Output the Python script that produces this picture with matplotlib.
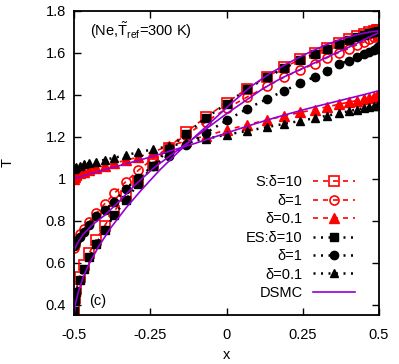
import matplotlib
matplotlib.use('Agg')
import matplotlib.pyplot as plt

plt.rcParams['font.family'] = ['Liberation Sans', 'DejaVu Sans']
plt.rcParams['mathtext.fontset'] = 'custom'
plt.rcParams['mathtext.rm'] = 'Liberation Sans'
plt.rcParams['mathtext.it'] = 'Liberation Sans'

# grid of the kinetic solutions (denser near the walls)
x = [-0.5, -0.498, -0.492, -0.482, -0.468, -0.45, -0.427, -0.4, -0.368, -0.331,
     -0.289, -0.242, -0.19, -0.132, -0.068, 0.0, 0.068, 0.132, 0.19, 0.242,
     0.289, 0.331, 0.368, 0.4, 0.427, 0.45, 0.468, 0.482, 0.492, 0.498, 0.5]

# S-model
s_d10 = [0.375, 0.43, 0.475, 0.53, 0.59, 0.645, 0.71, 0.775, 0.845, 0.918,
         0.99, 1.07, 1.148, 1.222, 1.294, 1.362, 1.43, 1.486, 1.532, 1.57,
         1.598, 1.624, 1.647, 1.666, 1.68, 1.691, 1.699, 1.704, 1.707, 1.709, 1.71]
s_d1 = [0.67, 0.685, 0.71, 0.735, 0.76, 0.795, 0.835, 0.88, 0.93, 0.985,
        1.04, 1.095, 1.15, 1.21, 1.27, 1.335, 1.39, 1.44, 1.485, 1.52,
        1.548, 1.578, 1.602, 1.62, 1.638, 1.652, 1.665, 1.675, 1.682, 1.687, 1.69]
s_d01 = [1.0, 1.01, 1.018, 1.026, 1.034, 1.042, 1.052, 1.062, 1.074, 1.088,
         1.103, 1.128, 1.155, 1.18, 1.205, 1.232, 1.258, 1.28, 1.3, 1.316,
         1.33, 1.343, 1.355, 1.365, 1.373, 1.38, 1.386, 1.391, 1.395, 1.398, 1.4]

# ES-model
es_d10 = [0.37, 0.415, 0.46, 0.515, 0.57, 0.625, 0.69, 0.755, 0.825, 0.9,
          0.975, 1.06, 1.14, 1.215, 1.29, 1.358, 1.428, 1.483, 1.528, 1.565,
          1.593, 1.618, 1.641, 1.66, 1.674, 1.685, 1.693, 1.698, 1.701, 1.703, 1.704]
es_d1 = [0.68, 0.69, 0.705, 0.72, 0.745, 0.78, 0.82, 0.85, 0.89, 0.95,
         1.005, 1.06, 1.11, 1.16, 1.218, 1.278, 1.334, 1.38, 1.42, 1.456,
         1.486, 1.516, 1.545, 1.563, 1.58, 1.595, 1.605, 1.615, 1.623, 1.63, 1.633]
es_d01 = [1.045, 1.05, 1.056, 1.062, 1.068, 1.075, 1.082, 1.09, 1.1, 1.112,
          1.126, 1.14, 1.155, 1.172, 1.19, 1.21, 1.228, 1.246, 1.262, 1.276,
          1.289, 1.301, 1.312, 1.322, 1.33, 1.337, 1.342, 1.346, 1.349, 1.351, 1.352]

# DSMC
x_dsmc10 = [-0.5, -0.495, -0.485, -0.47, -0.45, -0.42, -0.38, -0.33, -0.28, -0.22,
            -0.16, -0.1, -0.04, 0.02, 0.08, 0.14, 0.2, 0.26, 0.32, 0.38, 0.43, 0.47, 0.5]
dsmc_d10 = [0.35, 0.405, 0.465, 0.53, 0.595, 0.675, 0.765, 0.86, 0.945, 1.04,
            1.125, 1.205, 1.285, 1.365, 1.44, 1.5, 1.55, 1.595, 1.635, 1.668, 1.688, 1.7, 1.705]
x_dsmc1 = [-0.5, -0.49, -0.47, -0.44, -0.4, -0.35, -0.3, -0.24, -0.18, -0.12, -0.06,
           0.0, 0.06, 0.12, 0.18, 0.24, 0.3, 0.36, 0.42, 0.46, 0.5]
dsmc_d1 = [0.655, 0.69, 0.735, 0.78, 0.825, 0.895, 0.97, 1.05, 1.115, 1.18, 1.245,
           1.31, 1.37, 1.43, 1.48, 1.52, 1.56, 1.6, 1.64, 1.67, 1.697]
x_dsmc01 = [-0.5, -0.45, -0.4, -0.35, -0.3, -0.25, -0.2, -0.15, -0.1, -0.05, 0.0,
            0.05, 0.1, 0.15, 0.2, 0.25, 0.3, 0.35, 0.4, 0.45, 0.5]
dsmc_d01 = [1.0, 1.022, 1.043, 1.063, 1.083, 1.103, 1.125, 1.148, 1.17, 1.194, 1.218,
            1.242, 1.265, 1.287, 1.308, 1.328, 1.347, 1.365, 1.383, 1.401, 1.42]

red = '#ff0000'
purple = '#9400d3'

fig = plt.figure(figsize=(3.99, 3.64), dpi=100)
ax = fig.add_axes([0.1855, 0.1346, 0.7645, 0.8352])

dash = (0, (3, 3))
dot = (0, (0.8, 2.2))

ax.plot(x, s_d10, color=red, ls=dash, lw=1.2, marker='s', ms=6.5, mfc='none',
        mec=red, mew=1.2, label='S:δ=10')
ax.plot(x, s_d1, color=red, ls=dash, lw=1.2, marker='o', ms=6.5, mfc='none',
        mec=red, mew=1.2, label='δ=1')
ax.plot(x, s_d01, color=red, ls=dash, lw=1.2, marker='^', ms=7, mfc=red,
        mec=red, label='δ=0.1')
ax.plot(x, es_d10, color='black', ls=dot, lw=1.8, marker='s', ms=6, mfc='black',
        mec='black', label='ES:δ=10')
ax.plot(x, es_d1, color='black', ls=dot, lw=1.8, marker='o', ms=6, mfc='black',
        mec='black', label='δ=1')
ax.plot(x, es_d01, color='black', ls=dot, lw=1.8, marker='^', ms=6, mfc='black',
        mec='black', label='δ=0.1')
ax.plot(x_dsmc10, dsmc_d10, color=purple, lw=1.2, label='DSMC')
ax.plot(x_dsmc1, dsmc_d1, color=purple, lw=1.2)
ax.plot(x_dsmc01, dsmc_d01, color=purple, lw=1.2)

ax.set_xlim(-0.5, 0.5)
ax.set_ylim(0.35, 1.8)
ax.set_xticks([-0.5, -0.25, 0, 0.25, 0.5])
ax.set_xticklabels(['-0.5', '-0.25', '0', '0.25', '0.5'])
ax.set_yticks([0.4, 0.6, 0.8, 1.0, 1.2, 1.4, 1.6, 1.8])
ax.set_yticklabels(['0.4', '0.6', '0.8', '1', '1.2', '1.4', '1.6', '1.8'])
ax.tick_params(axis='both', direction='in', length=5, width=1, labelsize=10.5,
               top=True, right=True)
ax.tick_params(axis='x', pad=9)
ax.tick_params(axis='y', pad=6)
for s in ax.spines.values():
    s.set_linewidth(1.3)

ax.set_xlabel('x', fontsize=10.5, labelpad=5)
ax.set_ylabel('T', fontsize=10.5, labelpad=22)

ax.text(0.052, 0.935, r'(Ne,$\tilde{\mathrm{T}}_{\mathrm{ref}}$=300 K)',
        transform=ax.transAxes, fontsize=10.5, va='center')
ax.text(0.05, 0.045, '(c)', transform=ax.transAxes, fontsize=10.5, va='center')

ax.legend(loc='lower right', bbox_to_anchor=(0.94, 0.03), frameon=False,
          markerfirst=False, fontsize=10.5, handlelength=2.9, handletextpad=0.7,
          labelspacing=0.305, borderaxespad=0)

fig.savefig('out.png', dpi=100)
